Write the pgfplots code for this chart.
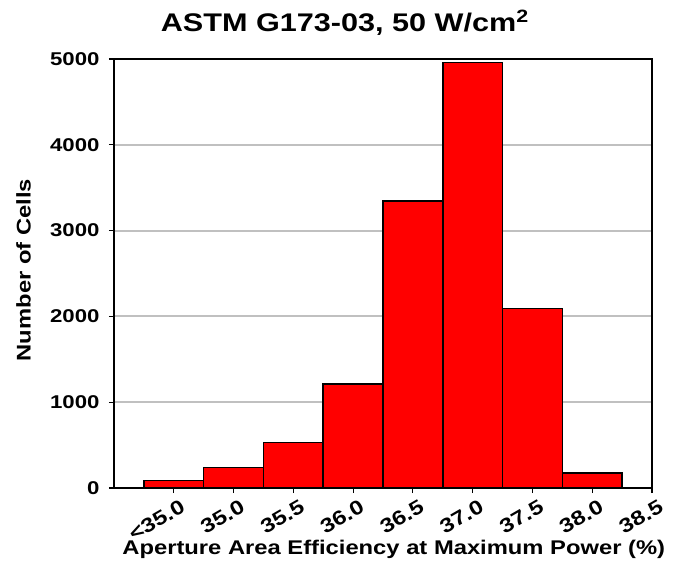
\documentclass[border=0pt]{standalone}
\usepackage{fontspec}
\setmainfont{Liberation Sans}[FakeStretch=1.2]
\usepackage{pgfplots}
\pgfplotsset{compat=1.18}
\definecolor{gridgray}{HTML}{C0C0C0}
\begin{document}
\begin{tikzpicture}
\useasboundingbox (-114pt,-83pt) rectangle (564pt,488pt);
\begin{axis}[
  at={(0pt,0pt)}, anchor=south west,
  scale only axis, width=538pt, height=429pt,
  xmin=0, xmax=9, ymin=0, ymax=5000,
  xtick={1,2,3,4,5,6,7,8,9},
  xticklabels={<35.0,35.0,35.5,36.0,36.5,37.0,37.5,38.0,38.5},
  ytick={0,1000,2000,3000,4000,5000},
  xtick pos=bottom, ytick pos=left,
  tick align=outside, major tick length=5pt,
  tick style={black, line width=1.2pt},
  axis line style={black, line width=2pt},
  ymajorgrids, grid style={gridgray, line width=2pt},
  /pgf/number format/assume math mode=true,
  /pgf/number format/1000 sep={},
  yticklabel style={font=\fontsize{18.5}{20}\selectfont\bfseries, xshift=-6pt},
  xticklabel style={font=\fontsize{20}{22}\selectfont\bfseries, rotate=30, anchor=north east, inner sep=1pt, xshift=3pt, yshift=-7pt},
  title={ASTM G173-03, 50 W/cm\textsuperscript{2}},
  title style={at={(axis description cs:0.429,1.049)}, anchor=base, font=\fontsize{25.5}{27}\selectfont\bfseries},
  xlabel={Aperture Area Efficiency at Maximum Power (\%)},
  xlabel style={at={(axis description cs:0.52,-0.154)}, anchor=base, font=\fontsize{19.8}{21}\selectfont\bfseries},
  ylabel={Number of Cells},
  ylabel style={at={(axis description cs:-0.155,0.508)}, anchor=base, rotate=0, font=\fontsize{19.8}{21}\selectfont\bfseries},
]
\addplot[ybar, bar width=1, bar shift=0pt, fill=red, draw=black, line width=1.5pt]
  coordinates {(1,90) (2,240) (3,530) (4,1210) (5,3345) (6,4960) (7,2090) (8,175)};
\end{axis}
\end{tikzpicture}
\end{document}
